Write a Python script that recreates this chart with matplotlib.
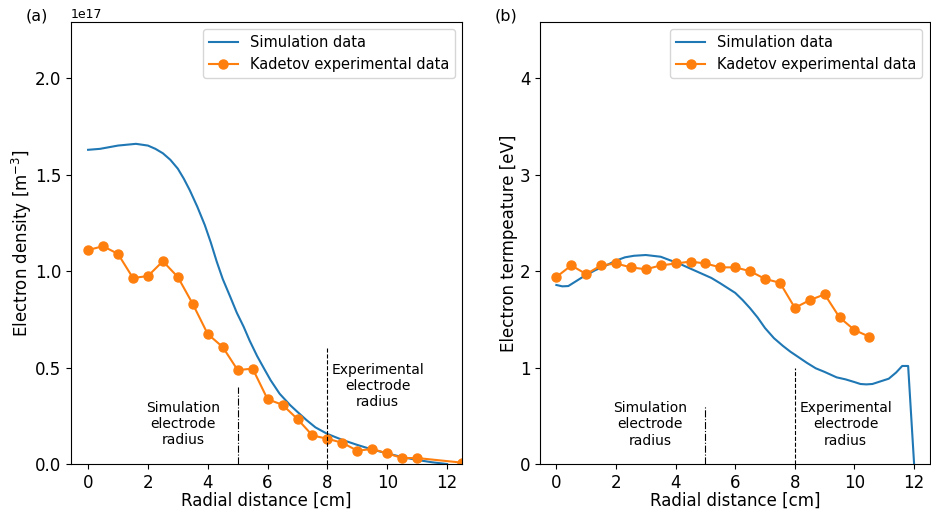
import numpy as np
import matplotlib
matplotlib.use("Agg")
import matplotlib.pyplot as plt

# (a) electron density, values in 1e17 m^-3
sim_r_dens = [0, 0.4, 1.0, 1.6, 2.0, 2.25, 2.5, 2.75, 3.0, 3.2, 3.4, 3.65, 3.9,
              4.1, 4.3, 4.5, 4.75, 4.97, 5.2, 5.4, 5.65, 5.9, 6.1, 6.4, 6.75,
              7.0, 7.3, 7.6, 8.0, 8.5, 9.0, 9.5, 10.0, 10.5, 11.0, 11.5, 12.0]
sim_dens = [1.63, 1.635, 1.652, 1.661, 1.652, 1.635, 1.612, 1.578, 1.532, 1.48,
            1.42, 1.335, 1.24, 1.15, 1.05, 0.96, 0.868, 0.785, 0.712, 0.64, 0.56,
            0.49, 0.435, 0.365, 0.306, 0.27, 0.228, 0.19, 0.156, 0.125, 0.099,
            0.075, 0.055, 0.036, 0.021, 0.009, 0.0]

exp_r_dens = [0, 0.5, 1.0, 1.5, 2.0, 2.5, 3.0, 3.5, 4.0, 4.5, 5.0, 5.5, 6.0, 6.5,
              7.0, 7.5, 8.0, 8.5, 9.0, 9.5, 10.0, 10.5, 11.0, 12.5]
exp_dens = [1.11, 1.13, 1.09, 0.965, 0.975, 1.052, 0.97, 0.83, 0.674, 0.607,
            0.487, 0.495, 0.336, 0.307, 0.233, 0.148, 0.131, 0.110, 0.069, 0.078,
            0.055, 0.031, 0.031, 0.007]

# (b) electron temperature, eV
sim_r_temp = [0, 0.2, 0.4, 0.9, 1.3, 1.7, 2.0, 2.3, 2.6, 3.0, 3.5, 3.8, 4.1, 4.4,
              4.8, 5.2, 5.5, 6.0, 6.25, 6.5, 6.75, 7.0, 7.3, 7.6, 7.85, 8.1,
              8.4, 8.7, 9.0, 9.4, 9.7, 10.0, 10.2, 10.4, 10.6, 10.9, 11.15,
              11.4, 11.6, 11.8, 12.0]
sim_temp = [1.857, 1.843, 1.846, 1.943, 2.01, 2.064, 2.11, 2.144, 2.16, 2.168,
            2.150, 2.115, 2.082, 2.04, 1.985, 1.93, 1.874, 1.775, 1.70, 1.615,
            1.52, 1.41, 1.305, 1.225, 1.165, 1.113, 1.05, 0.993, 0.955, 0.899,
            0.878, 0.85, 0.83, 0.826, 0.83, 0.86, 0.885, 0.95, 1.017, 1.017, 0.0]

exp_r_temp = [0, 0.5, 1.0, 1.5, 2.0, 2.5, 3.0, 3.5, 4.0, 4.5, 5.0, 5.5, 6.0, 6.5,
              7.0, 7.5, 8.0, 8.5, 9.0, 9.5, 10.0, 10.5]
exp_temp = [1.94, 2.06, 1.97, 2.06, 2.08, 2.04, 2.02, 2.06, 2.08, 2.10, 2.08,
            2.04, 2.04, 2.00, 1.92, 1.88, 1.62, 1.70, 1.76, 1.52, 1.39, 1.32]

fig = plt.figure(figsize=(9.31, 5.13), dpi=100)
ax1 = fig.add_axes([0.0763, 0.0955, 0.420, 0.8616])
ax2 = fig.add_axes([0.580, 0.0955, 0.4185, 0.8616])

# --- density ---
ax1.plot(np.array(sim_r_dens), np.array(sim_dens) * 1e17, color="C0", lw=1.5,
         label="Simulation data")
ax1.plot(np.array(exp_r_dens), np.array(exp_dens) * 1e17, color="C1", lw=1.5,
         marker="o", ms=6.5, label="Kadetov experimental data")
ax1.vlines(5, 0, 0.4e17, colors="k", linestyles="-.", lw=0.8)
ax1.vlines(8, 0, 0.6e17, colors="k", linestyles="--", lw=0.8)
ax1.text(3.17, 0.206e17, "Simulation\nelectrode\nradius", ha="center", va="center",
         fontsize=10)
ax1.text(9.68, 0.405e17, "Experimental\nelectrode\nradius", ha="center", va="center",
         fontsize=10)
ax1.set_xlim(-0.57, 12.5)
ax1.set_ylim(0, 2.293e17)
ax1.set_xticks([0, 2, 4, 6, 8, 10, 12])
ax1.set_xlabel("Radial distance [cm]", fontsize=12, labelpad=0)
ax1.set_ylabel("Electron density [m$^{-3}$]", fontsize=12, labelpad=1)
ax1.tick_params(labelsize=12)
ax1.yaxis.get_offset_text().set_fontsize(9)
ax1.legend(loc="upper right", fontsize=10.5)

# --- temperature ---
ax2.plot(sim_r_temp, sim_temp, color="C0", lw=1.5, label="Simulation data")
ax2.plot(exp_r_temp, exp_temp, color="C1", lw=1.5, marker="o", ms=6.5,
         label="Kadetov experimental data")
ax2.vlines(5, 0, 0.6, colors="k", linestyles="-.", lw=0.8)
ax2.vlines(8, 0, 1.0, colors="k", linestyles="--", lw=0.8)
ax2.text(3.15, 0.41, "Simulation\nelectrode\nradius", ha="center", va="center",
         fontsize=10)
ax2.text(9.70, 0.41, "Experimental\nelectrode\nradius", ha="center", va="center",
         fontsize=10)
ax2.set_xlim(-0.55, 12.52)
ax2.set_ylim(0, 4.585)
ax2.set_xticks([0, 2, 4, 6, 8, 10, 12])
ax2.set_yticks([0, 1, 2, 3, 4])
ax2.set_xlabel("Radial distance [cm]", fontsize=12, labelpad=0)
ax2.set_ylabel("Electron termpeature [eV]", fontsize=12, labelpad=1)
ax2.tick_params(labelsize=12)
ax2.legend(loc="upper right", fontsize=10.5)

fig.text(0.040, 0.969, "(a)", ha="center", va="center", fontsize=11.5)
fig.text(0.543, 0.969, "(b)", ha="center", va="center", fontsize=11.5)

fig.savefig("out.png", dpi=100)
